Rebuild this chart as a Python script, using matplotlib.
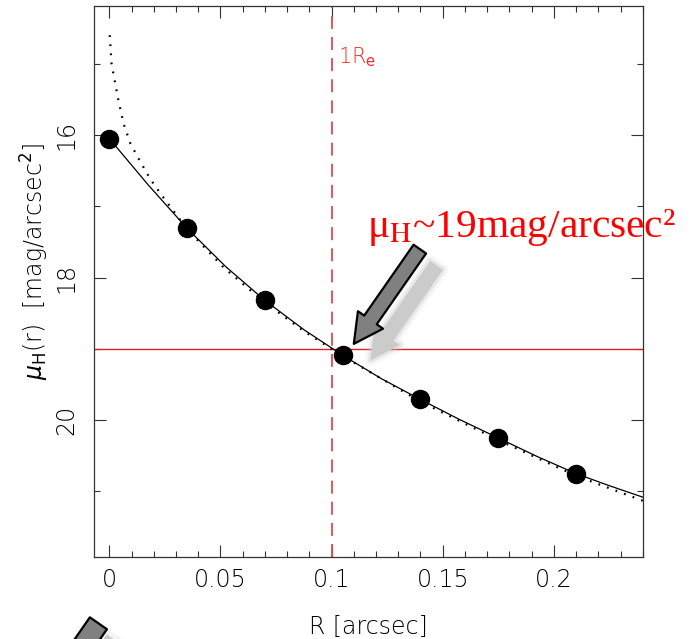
import matplotlib
matplotlib.use("Agg")
import matplotlib.pyplot as plt
import matplotlib.patheffects as pe
from matplotlib.patches import FancyArrowPatch
from matplotlib.ticker import MultipleLocator

# observed surface brightness profile
r_obs = [0.0, 0.035, 0.07, 0.105, 0.14, 0.175, 0.21]
mu_obs = [16.05, 17.31, 18.32, 19.09, 19.71, 20.25, 20.75]

# PSF-convolved fit (solid)
r_fit = [0.0, 0.0175, 0.035, 0.0525, 0.07, 0.0875, 0.105, 0.1225, 0.14,
         0.1575, 0.175, 0.1925, 0.21, 0.225, 0.24]
mu_fit = [16.05, 16.70, 17.31, 17.85, 18.32, 18.73, 19.09, 19.42, 19.71,
          19.99, 20.25, 20.51, 20.75, 20.92, 21.08]

# intrinsic Sersic model (dotted)
r_sersic = [0.0002, 0.001, 0.004, 0.0065, 0.0095, 0.0135, 0.0185, 0.0237,
            0.035, 0.0515, 0.07, 0.0875, 0.105, 0.14, 0.175, 0.21, 0.24]
mu_sersic = [14.6, 15.0, 15.5, 15.85, 16.12, 16.35, 16.62, 16.85,
             17.32, 17.86, 18.35, 18.75, 19.1, 19.74, 20.28, 20.78, 21.13]

r_e = 0.1
mu_e = 19.0

xticks = [0, 0.05, 0.1, 0.15, 0.2]
xticklabels = ["0", "0.05", "0.1", "0.15", "0.2"]
yticks = [16, 18, 20]
yticklabels = ["16", "18", "20"]

sans = "DejaVu Sans"
wt = 200

fig = plt.figure(figsize=(6.89, 6.39), dpi=100)
ax = fig.add_axes([0.1364, 0.1283, 0.7968, 0.8623])

ax.plot(r_fit, mu_fit, color="black", lw=0.9, zorder=3)
ax.plot(r_sersic, mu_sersic, color="black", lw=1.6,
        linestyle=(0, (0.8, 3.3)), zorder=3)
ax.plot(r_obs, mu_obs, "o", ms=13, color="black", zorder=4)

ax.axvline(r_e, color="#e8464e", lw=1.3, dashes=(7.2, 4.5), zorder=2)
ax.axhline(mu_e, color="#dd2020", lw=1.0, zorder=2)

ax.text(0.1028, 14.99, "1R$_{\\rm e}$", color="#ee2a2a", fontsize=15,
        family=sans, fontweight=wt, va="baseline",
        math_fontfamily="dejavusans")

ax.set_xlim(-0.0069, 0.2401)
ax.set_ylim(21.92, 14.19)

ax.set_xticks(xticks)
ax.set_xticklabels(xticklabels, family=sans, fontweight=wt, fontsize=17)
ax.set_yticks(yticks)
ax.set_yticklabels(yticklabels, family=sans, fontweight=wt, fontsize=17,
                   rotation=90, va="center")
ax.xaxis.set_minor_locator(MultipleLocator(0.01))
ax.yaxis.set_minor_locator(MultipleLocator(1))
ax.tick_params(which="both", direction="in", top=True, right=True,
               width=0.8, color="#333333")
ax.tick_params(which="major", length=8.5)
ax.tick_params(which="minor", length=4.5)
ax.tick_params(axis="x", pad=8)
ax.tick_params(axis="y", pad=11)
for s in ax.spines.values():
    s.set_linewidth(0.9)
    s.set_color("#333333")

ax.set_xlabel("R [arcsec]", family=sans, fontweight=wt, fontsize=17)
ax.xaxis.set_label_coords(0.5, -0.127)
ax.xaxis.label.set_va("center")
ax.set_ylabel("$\\mu_{\\rm H}$(r)  [mag/arcsec$^2$]", family=sans,
              fontweight=wt, fontsize=17, math_fontfamily="dejavusans")
ax.yaxis.set_label_coords(-0.1075, 0.537)
ax.yaxis.label.set_va("center")

# annotation: surface brightness at R_e
ax.text(0.116, 17.43, "\u03bc$_{\\rm H}$~19mag/arcsec\u00b2", color="red",
        fontsize=29.8, family="Liberation Serif", va="baseline",
        math_fontfamily="stix")

style = "simple,head_length=1.05,head_width=1.1,tail_width=0.55"
shadow = ax.annotate("", xy=(0.1175, 19.16), xytext=(0.1472, 17.83),
                     arrowprops=dict(arrowstyle=style, mutation_scale=20,
                                     fc="#cbcbcb", ec="none",
                                     shrinkA=0, shrinkB=0),
                     zorder=5)
shadow.arrow_patch.set_path_effects([
    pe.Stroke(linewidth=8, foreground="#cbcbcb", alpha=0.15),
    pe.Stroke(linewidth=4, foreground="#cbcbcb", alpha=0.35),
    pe.Normal()])
ax.annotate("", xy=(0.110, 18.93), xytext=(0.1397, 17.60),
            arrowprops=dict(arrowstyle=style, mutation_scale=20,
                            fc="#808080", ec="black", lw=1.6,
                            shrinkA=0, shrinkB=0),
            zorder=6)

# second arrow at the lower left, mostly outside the figure
big = "simple,head_length=1.05,head_width=1.4,tail_width=0.75"
sh2 = fig.add_artist(FancyArrowPatch((117, 1), (51, -94), transform=None,
                                     arrowstyle=big, mutation_scale=20,
                                     fc="#cbcbcb", ec="none"))
sh2.set_path_effects([
    pe.Stroke(linewidth=7, foreground="#cbcbcb", alpha=0.2),
    pe.Normal()])
fig.add_artist(FancyArrowPatch((100, 18), (34, -77), transform=None,
                               arrowstyle=big, mutation_scale=20,
                               fc="#808080", ec="black", lw=1.6))

fig.savefig("out.png", dpi=100)
